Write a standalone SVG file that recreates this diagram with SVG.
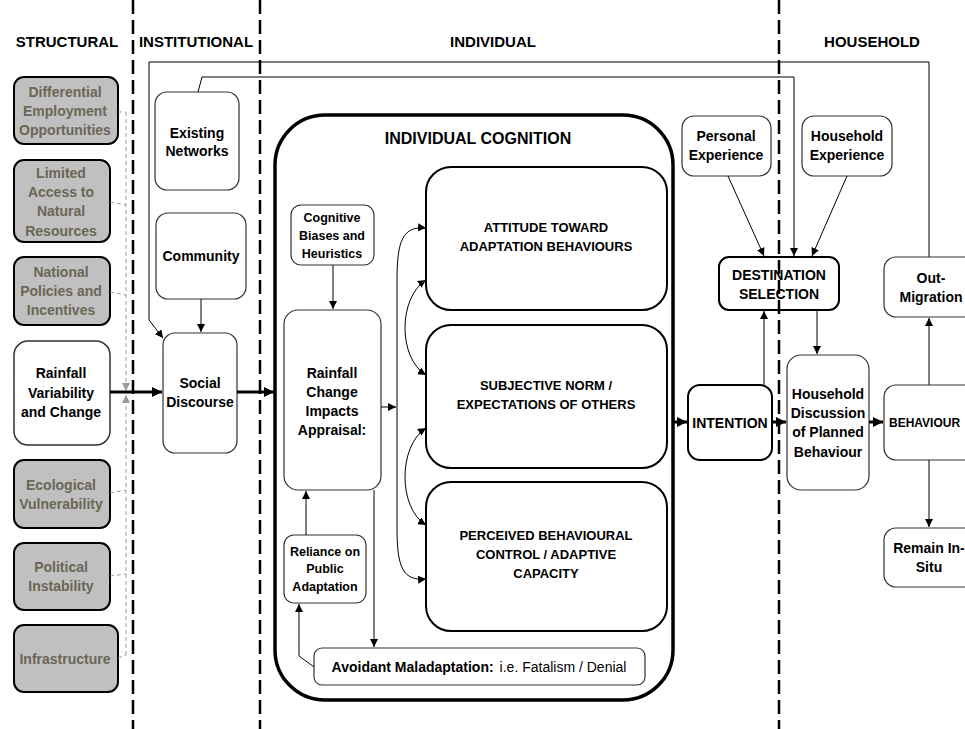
<svg xmlns="http://www.w3.org/2000/svg" width="965" height="729" viewBox="0 0 965 729">
<defs>
<style>
text{font-family:"Liberation Sans",Arial,sans-serif;font-weight:bold;fill:#000;text-anchor:middle;}
.hdr{font-size:15px;}
.t{font-size:14px;}
.ts{font-size:12.5px;}
.tb{font-size:13px;}
.gt{font-size:14px;fill:#6b6656;}
.gray{fill:#c0c0c0;stroke:#000;stroke-width:2;}
.node{fill:#fff;stroke:#333;stroke-width:1.2;}
.strong{fill:#fff;stroke:#000;stroke-width:2;}
.big{fill:#fff;stroke:#000;stroke-width:2;}
.thin{fill:none;stroke:#000;stroke-width:1;}
.thick{fill:none;stroke:#000;stroke-width:3;}
.gdash{fill:none;stroke:#999;stroke-width:1;stroke-dasharray:4 3;}
.lane{fill:none;stroke:#000;stroke-width:2.5;stroke-dasharray:14 6;}
</style>
<marker id="a" viewBox="0 0 10 10" refX="10" refY="5" markerWidth="8" markerHeight="8" markerUnits="userSpaceOnUse" orient="auto-start-reverse"><path d="M0,0 L10,5 L0,10 z" fill="#000"/></marker>
<marker id="ak" viewBox="0 0 10 10" refX="10" refY="5" markerWidth="10" markerHeight="10" markerUnits="userSpaceOnUse" orient="auto"><path d="M0,0 L10,5 L0,10 z" fill="#000"/></marker>
<marker id="ag" viewBox="0 0 10 10" refX="10" refY="5" markerWidth="8" markerHeight="8" markerUnits="userSpaceOnUse" orient="auto"><path d="M0,0 L10,5 L0,10 z" fill="#999"/></marker>
</defs>
<rect width="965" height="729" fill="#fff"/>

<g id="headers">
<text class="hdr" x="67" y="47">STRUCTURAL</text>
<text class="hdr" x="196" y="47">INSTITUTIONAL</text>
<text class="hdr" x="493" y="47">INDIVIDUAL</text>
<text class="hdr" x="872" y="47">HOUSEHOLD</text>
</g>

<g id="cognition-frame">
<rect x="275" y="115" width="398" height="585" rx="50" fill="#fff" stroke="#000" stroke-width="3.5"/>
<text x="478" y="144" style="font-size:16px">INDIVIDUAL COGNITION</text>
</g>

<g id="differential">
<rect class="gray" x="14" y="77" width="104" height="67" rx="10"/>
<text class="gt" x="65" y="97">Differential</text>
<text class="gt" x="65" y="116">Employment</text>
<text class="gt" x="65" y="135">Opportunities</text>
</g>
<g id="limited-access">
<rect class="gray" x="14" y="160" width="96" height="82" rx="10"/>
<text class="gt" x="61" y="178">Limited</text>
<text class="gt" x="61" y="197">Access to</text>
<text class="gt" x="61" y="216">Natural</text>
<text class="gt" x="61" y="236">Resources</text>
</g>
<g id="national-policies">
<rect class="gray" x="14" y="257" width="96" height="68" rx="10"/>
<text class="gt" x="61" y="277">National</text>
<text class="gt" x="61" y="296">Policies and</text>
<text class="gt" x="61" y="315">Incentives</text>
</g>
<g id="rainfall-variability">
<rect class="node" x="14" y="341" width="96" height="104" rx="14" style="stroke-width:1.5"/>
<text class="t" x="61" y="378">Rainfall</text>
<text class="t" x="61" y="398">Variability</text>
<text class="t" x="61" y="417">and Change</text>
</g>
<g id="ecological">
<rect class="gray" x="14" y="460" width="96" height="68" rx="10"/>
<text class="gt" x="61" y="490">Ecological</text>
<text class="gt" x="61" y="509">Vulnerability</text>
</g>
<g id="political">
<rect class="gray" x="14" y="543" width="96" height="67" rx="10"/>
<text class="gt" x="61" y="572">Political</text>
<text class="gt" x="61" y="591">Instability</text>
</g>
<g id="infrastructure">
<rect class="gray" x="14" y="625" width="104" height="67" rx="10"/>
<text class="gt" x="65" y="664">Infrastructure</text>
</g>

<g id="existing-networks">
<rect class="node" x="155" y="92" width="84" height="98" rx="12"/>
<text class="t" x="197" y="138">Existing</text>
<text class="t" x="197" y="156">Networks</text>
</g>
<g id="community">
<rect class="node" x="156" y="213" width="90" height="86" rx="12"/>
<text class="t" x="201" y="261">Community</text>
</g>
<g id="social-discourse">
<rect class="node" x="163" y="333" width="74" height="120" rx="12"/>
<text class="t" x="200" y="388">Social</text>
<text class="t" x="200" y="407">Discourse</text>
</g>

<g id="cognitive-biases">
<rect class="node" x="291" y="205" width="83" height="60" rx="10"/>
<text class="ts" x="332" y="222">Cognitive</text>
<text class="ts" x="332" y="240">Biases and</text>
<text class="ts" x="332" y="258">Heuristics</text>
</g>
<g id="appraisal">
<rect class="node" x="284" y="310" width="97" height="180" rx="14"/>
<text class="t" x="332" y="378">Rainfall</text>
<text class="t" x="332" y="397">Change</text>
<text class="t" x="332" y="416">Impacts</text>
<text class="t" x="332" y="435">Appraisal:</text>
</g>
<g id="reliance">
<rect class="node" x="284" y="535" width="82" height="68" rx="10"/>
<text class="ts" x="325" y="556">Reliance on</text>
<text class="ts" x="325" y="573">Public</text>
<text class="ts" x="325" y="591">Adaptation</text>
</g>
<g id="avoidant">
<rect class="node" x="314" y="648" width="331" height="37" rx="8"/>
<text x="479" y="672" style="font-size:14px"><tspan>Avoidant Maladaptation:</tspan><tspan style="font-weight:normal" dx="6">i.e. Fatalism / Denial</tspan></text>
</g>
<g id="attitude">
<rect class="big" x="426" y="167" width="241" height="143" rx="25"/>
<text class="tb" x="546" y="232">ATTITUDE TOWARD</text>
<text class="tb" x="546" y="251">ADAPTATION BEHAVIOURS</text>
</g>
<g id="subjective-norm">
<rect class="big" x="426" y="325" width="241" height="143" rx="25"/>
<text class="tb" x="546" y="390">SUBJECTIVE NORM /</text>
<text class="tb" x="546" y="409">EXPECTATIONS OF OTHERS</text>
</g>
<g id="perceived-control">
<rect class="big" x="426" y="482" width="241" height="149" rx="25"/>
<text class="tb" x="546" y="540">PERCEIVED BEHAVIOURAL</text>
<text class="tb" x="546" y="559">CONTROL / ADAPTIVE</text>
<text class="tb" x="546" y="578">CAPACITY</text>
</g>

<g id="personal-experience">
<rect class="node" x="682" y="116" width="89" height="60" rx="12"/>
<text class="t" x="726" y="141">Personal</text>
<text class="t" x="726" y="160">Experience</text>
</g>
<g id="household-experience">
<rect class="node" x="802" y="116" width="90" height="60" rx="12"/>
<text class="t" x="847" y="141">Household</text>
<text class="t" x="847" y="160">Experience</text>
</g>
<g id="destination">
<rect class="strong" x="719" y="257" width="120" height="53" rx="10"/>
<text class="t" x="779" y="280">DESTINATION</text>
<text class="t" x="779" y="299">SELECTION</text>
</g>
<g id="intention">
<rect class="strong" x="688" y="385" width="84" height="75" rx="12"/>
<text class="t" x="730" y="428">INTENTION</text>
</g>
<g id="household-discussion">
<rect class="node" x="787" y="355" width="82" height="135" rx="14"/>
<text class="t" x="828" y="399">Household</text>
<text class="t" x="828" y="418">Discussion</text>
<text class="t" x="828" y="437">of Planned</text>
<text class="t" x="828" y="457">Behaviour</text>
</g>
<g id="out-migration">
<rect class="node" x="884" y="257" width="100" height="60" rx="12"/>
<text class="t" x="931" y="283">Out-</text>
<text class="t" x="931" y="302">Migration</text>
</g>
<g id="behaviour">
<rect class="node" x="884" y="385" width="100" height="75" rx="12"/>
<text x="889" y="427" style="text-anchor:start;font-size:12px">BEHAVIOUR</text>
</g>
<g id="remain">
<rect class="node" x="884" y="528" width="100" height="59" rx="12"/>
<text class="t" x="929" y="553">Remain In-</text>
<text class="t" x="929" y="572">Situ</text>
</g>

<g id="connectors">
<path class="gdash" d="M118,112 H126 M110,202 L126,205 M110,292 L126,295 M110,493 L126,490 M110,576 L126,574 M118,658 L126,655"/>
<path class="gdash" d="M126,112 V391" marker-end="url(#ag)"/>
<path class="gdash" d="M126,655 V395" marker-end="url(#ag)"/>
<path class="thick" d="M110,392 H162" marker-end="url(#ak)"/>
<path class="thick" d="M237,392 H274" marker-end="url(#ak)"/>
<path class="thick" d="M673,422 H687" marker-end="url(#ak)"/>
<path class="thick" d="M772,422 H786" marker-end="url(#ak)"/>
<path class="thick" d="M869,422 H883" marker-end="url(#ak)"/>
<path class="thin" d="M929,257 V62 H149 V320 L163,338" marker-end="url(#a)"/>
<path class="thin" d="M198,92 L202,77 H794 V256" marker-end="url(#a)"/>
<path class="thin" d="M201,299 V332" marker-end="url(#a)"/>
<path class="thin" d="M333,265 V309" marker-end="url(#a)"/>
<path class="thin" d="M306,535 V491" marker-end="url(#a)"/>
<path class="thin" d="M374,490 V647" marker-end="url(#a)"/>
<path class="thin" d="M314,667 L299,656 V604" marker-end="url(#a)"/>
<path class="thin" d="M381,407 H396" marker-end="url(#a)"/>
<path class="thin" d="M426,228 C403,226 397,240 397,280 L397,528 C397,568 403,581 426,579" marker-start="url(#a)" marker-end="url(#a)"/>
<path class="thin" d="M426,280 C398,298 398,358 426,375" marker-start="url(#a)" marker-end="url(#a)"/>
<path class="thin" d="M426,428 C398,446 398,508 426,525" marker-start="url(#a)" marker-end="url(#a)"/>
<path class="thin" d="M728,176 L764,256" marker-end="url(#a)"/>
<path class="thin" d="M847,176 L812,256" marker-end="url(#a)"/>
<path class="thin" d="M764,385 V311" marker-end="url(#a)"/>
<path class="thin" d="M817,310 V354" marker-end="url(#a)"/>
<path class="thin" d="M929,385 V318" marker-end="url(#a)"/>
<path class="thin" d="M929,460 V527" marker-end="url(#a)"/>
</g>

<g id="lanes">
<path class="lane" d="M133,0 V729 M260,0 V729 M779,0 V729"/>
</g>
</svg>
